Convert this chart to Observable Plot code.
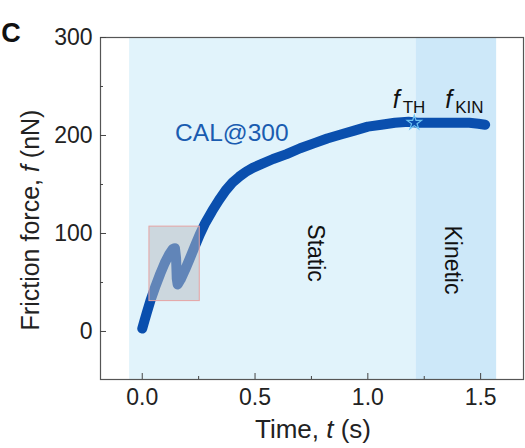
<!DOCTYPE html>
<html><head><meta charset="utf-8">
<script src="https://cdn.jsdelivr.net/npm/d3@7"></script>
<script src="https://cdn.jsdelivr.net/npm/@observablehq/plot@0.6"></script>
<style>body{margin:0;background:#fff}</style>
</head><body><div id="chart"></div>
<script>
// Friction force trace
const timeS = [0, 0.01, 0.02, 0.037, 0.06, 0.08, 0.1, 0.12, 0.135, 0.145, 0.15, 0.153, 0.157, 0.17, 0.19, 0.21, 0.235, 0.255, 0.28, 0.31, 0.34, 0.37, 0.40, 0.43, 0.46, 0.49, 0.53, 0.58, 0.64, 0.70, 0.76, 0.82, 0.88, 0.94, 1.00, 1.06, 1.12, 1.18, 1.22, 1.27, 1.33, 1.39, 1.45, 1.49, 1.52];
const forceNN = [3, 11, 19, 32, 47, 59, 70, 79, 84, 85, 75, 54, 48, 53, 63, 74, 88, 99, 111, 123, 134, 144, 152, 158, 163, 167, 171, 176, 181, 187, 192, 197, 201, 205, 209, 211, 213, 214, 213, 213, 213, 213, 213, 212, 211];
// Regions
const regionNames = ["Static", "Kinetic"];
const regionStart = [-0.056, 1.214];
const regionEnd = [1.214, 1.571];
const regionFill = ["#e1f3fb", "#cde8f9"];
const regionLabelT = [0.768, 1.376];
const regionLabelF = [80, 73];
// Zoom box
const boxT = [0.032, 0.255];
const boxF = [31, 107];
// Threshold point
const thT = [1.206];
const thF = [213];
// Labels
const fLabelT = [1.11, 1.343];
const fLabelF = [236, 236];
const fSubs = ["TH", "KIN"];
const seriesName = ["CAL@300"];
const seriesT = [0.397];
const seriesF = [202];
// Ticks
const xMajor = [0, 0.5, 1.0, 1.5];
const xMinor = [0.25, 0.75, 1.25];
const yMajor = [0, 100, 200, 300];
const yMinor = [50, 150, 250];

const trace = timeS.map((t, i) => ({t, f: forceNN[i]}));
const regions = regionNames.map((name, i) => ({name, x1: regionStart[i], x2: regionEnd[i], fill: regionFill[i], lt: regionLabelT[i], lf: regionLabelF[i]}));
const box = [{x1: boxT[0], x2: boxT[1], y1: boxF[0], y2: boxF[1]}];
const fLabels = fSubs.map((s, i) => ({s, t: fLabelT[i], f: fLabelF[i]}));
const tickColor = "#444";

const plot = Plot.plot({
  width: 525, height: 448,
  marginTop: 37, marginBottom: 69, marginLeft: 100, marginRight: 2,
  style: {fontFamily: "'Liberation Sans', Arial, sans-serif", fontSize: "23px", color: "#222", background: "#fff"},
  x: {domain: [-0.185, 1.69]},
  y: {domain: [-49, 300]},
  marks: [
    Plot.rect(regions, {x1: "x1", x2: "x2", fill: d => d.fill}),
    Plot.line(trace, {x: "t", y: "f", stroke: "#0a4fae", strokeWidth: 10, strokeLinecap: "round", strokeLinejoin: "round"}),
    Plot.rect(box, {x1: "x1", x2: "x2", y1: "y1", y2: "y2", fill: "#b8bcc2", fillOpacity: 0.5, stroke: "#e6a3a3", strokeWidth: 1}),
    Plot.dot(thT.map((t, i) => ({t, f: thF[i]})), {x: "t", y: "f", symbol: "star", r: 4.5, stroke: "#6ec3f2", strokeWidth: 1.2, fill: "none"}),
    Plot.text(regions, {x: "lt", y: "lf", text: "name", rotate: 90, fontSize: 23, fill: "#111"}),
    Plot.text(seriesName.map((n, i) => ({n, t: seriesT[i], f: seriesF[i]})), {x: "t", y: "f", text: "n", fontSize: 24.5, fill: "#1a5cb0"}),
    Plot.text(fLabels, {x: "t", y: "f", text: () => "f", fontStyle: "italic", fontSize: 25, textAnchor: "start", fill: "#111"}),
    Plot.text(fLabels, {x: "t", y: "f", text: "s", fontSize: 17, textAnchor: "start", dx: 10, dy: 7, fill: "#111"}),
    Plot.frame({stroke: "#555", strokeWidth: 1.2}),
    Plot.axisX({ticks: xMajor, tickSize: -6, tickFormat: () => "", label: null, stroke: tickColor}),
    Plot.axisX({ticks: xMinor, tickSize: -3, tickFormat: () => "", label: null, stroke: tickColor}),
    Plot.axisX({ticks: xMajor, tickSize: 0, tickPadding: 9, tickFormat: d3.format(".1f"), label: null, fill: "#222"}),
    Plot.axisY({ticks: yMajor, tickSize: -6, tickFormat: () => "", label: null, stroke: tickColor}),
    Plot.axisY({ticks: yMinor, tickSize: -3, tickFormat: () => "", label: null, stroke: tickColor}),
    Plot.axisY({ticks: yMajor, tickSize: 0, tickPadding: 8, label: null, fill: "#222"})
  ]
});
document.getElementById("chart").append(plot);

const svg = d3.select(plot);
svg.append("text").attr("x", 11).attr("y", 42).attr("font-size", 27).attr("font-weight", "bold").attr("fill", "#111").text("C");
const xl = svg.append("text").attr("x", 313).attr("y", 438).attr("text-anchor", "middle").attr("font-size", 26).attr("fill", "#222");
xl.append("tspan").text("Time, ");
xl.append("tspan").attr("font-style", "italic").text("t");
xl.append("tspan").text(" (s)");
const yl = svg.append("text").attr("transform", "translate(39,220) rotate(-90)").attr("text-anchor", "middle").attr("font-size", 25).attr("fill", "#222");
yl.append("tspan").text("Friction force, ");
yl.append("tspan").attr("font-style", "italic").text("f");
yl.append("tspan").text(" (nN)");
</script>
</body></html>
